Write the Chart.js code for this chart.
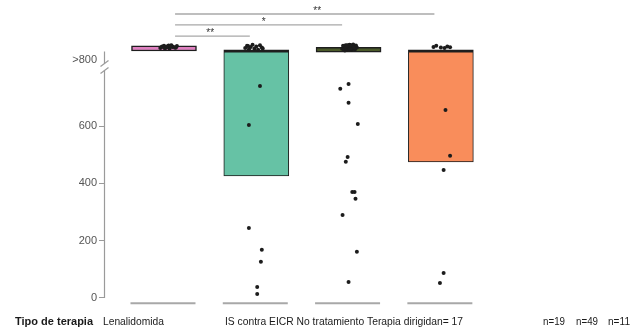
<!DOCTYPE html>
<html>
<head>
<meta charset="utf-8">
<script src="https://cdn.jsdelivr.net/npm/chart.js@4.4.0/dist/chart.umd.min.js"></script>
<style>
  html, body { margin: 0; padding: 0; background: #fff; }
  #wrap { width: 630px; height: 334px; }
</style>
</head>
<body>
<div id="wrap"><canvas id="chart"></canvas></div>
<script>
// therapy groups and their sizes
const categories = ['Lenalidomida', 'IS contra EICR', 'No tratamiento', 'Terapia dirigida']
const counts = [17, 19, 49, 11]
const boxColors = ['#df80c0', '#66c2a5', '#4b5a2a', '#f98d5b']

// box limits (Q1 .. Q3 / median), values above 800 are plotted at ~870
const q1 = [862, 426, 858, 475]
const q3 = [880, 866, 875, 866]

const yTicks = [0, 200, 400, 600, 831]
const yTickLabels = ['0', '200', '400', '600', '>800']

// individual patients, value + horizontal jitter
const lenaVals = [872, 878, 880, 874, 876, 870, 882, 877, 873, 879, 875, 871, 881, 876, 874, 878, 880]
const lenaJit = [-0.04, -0.02, 0, 0.02, 0.04, 0.06, 0.08, 0.1, 0.12, 0.14, -0.03, 0.01, 0.05, 0.09, 0.13, 0.03, 0.07]

const isVals = [872, 880, 868, 876, 884, 870, 878, 866, 882, 874, 871, 879, 740, 604, 244, 168, 126, 38, 14]
const isJit = [-0.12, -0.1, -0.08, -0.06, -0.04, -0.02, 0, 0.02, 0.04, 0.06, 0.07, -0.09, 0.04, -0.08, -0.08, 0.06, 0.05, 0.01, 0.01]

const noVals = [870, 876, 882, 866, 872, 879, 885, 868, 874, 880, 864, 871, 877, 883, 869, 875, 881, 867, 873, 878,
  884, 865, 872, 876, 880, 870, 874, 879, 868, 873, 877, 882, 866, 871, 875, 880, 869,
  747, 730, 681, 607, 492, 475, 370, 370, 346, 290, 161, 56]
const noJit = [-0.07, -0.05, -0.03, -0.01, 0.01, 0.03, 0.05, 0.07, 0.09, -0.06, -0.04, -0.02, 0, 0.02, 0.04, 0.06, 0.08, -0.05, -0.03, -0.01,
  0.01, 0.03, 0.05, 0.07, -0.04, -0.02, 0, 0.02, 0.04, 0.06, -0.03, -0.01, 0.01, 0.03, 0.05, -0.02, 0.02,
  0, -0.09, 0, 0.1, -0.01, -0.03, 0.04, 0.065, 0.075, -0.065, 0.09, 0]

const tdVals = [876, 880, 874, 872, 878, 875, 656, 496, 447, 87, 52]
const tdJit = [-0.08, -0.05, 0, 0.04, 0.07, 0.1, 0.05, 0.1, 0.03, 0.03, -0.01]

// significance comparisons: [from, to, label]
const sigPairs = [[1, 2, '**'], [1, 3, '*'], [1, 4, '**']]

const groupVals = [lenaVals, isVals, noVals, tdVals]
const groupJit = [lenaJit, isJit, noJit, tdJit]

const points = []
groupVals.forEach((vals, g) => {
    vals.forEach((v, k) => points.push({ x: g + 1 + groupJit[g][k], y: v }))
})

const BAR_W = 65

const decor = {
    id: 'decor',
    afterDatasetDraw(chart, args) {
        if (args.index !== 0) return
        const { ctx, scales: { x, y } } = chart
        // grey base segment under each group
        ctx.save()
        ctx.strokeStyle = '#a8a8a8'
        ctx.lineWidth = 2
        categories.forEach((c, i) => {
            const cx = x.getPixelForValue(i + 1)
            const py = y.getPixelForValue(-18)
            ctx.beginPath()
            ctx.moveTo(cx - BAR_W / 2 - 1, py)
            ctx.lineTo(cx + BAR_W / 2 - 1, py)
            ctx.stroke()
        })
        ctx.restore()
    },
    afterDraw(chart) {
        const { ctx, chartArea, scales: { x, y } } = chart
        ctx.save()
        // y axis with break
        const ax = chartArea.left + 0.5
        const yTop = y.getPixelForValue(860)
        const yBot = y.getPixelForValue(0)
        const yc = y.getPixelForValue(806)
        ctx.strokeStyle = '#9a9a9a'
        ctx.lineWidth = 1.2
        ctx.beginPath()
        ctx.moveTo(ax, yTop); ctx.lineTo(ax, yc - 4)
        ctx.moveTo(ax, yc + 4); ctx.lineTo(ax, yBot)
        ctx.stroke()
        ;[yc - 3.5, yc + 3.5].forEach(s => {
            ctx.beginPath()
            ctx.moveTo(ax - 4, s + 3)
            ctx.lineTo(ax + 4, s - 3)
            ctx.stroke()
        })

        // significance brackets
        const sigY = [914, 953, 991]
        ctx.strokeStyle = '#a8a8a8'
        ctx.lineWidth = 1.3
        ctx.fillStyle = '#333'
        ctx.font = '10px "Liberation Sans", Arial, sans-serif'
        ctx.textAlign = 'center'
        ctx.textBaseline = 'bottom'
        sigPairs.forEach(([a, b, lab], i) => {
            const x1 = x.getPixelForValue(a + 0.12)
            const x2 = x.getPixelForValue(b - 0.07)
            const py = y.getPixelForValue(sigY[i])
            ctx.beginPath()
            ctx.moveTo(x1, py); ctx.lineTo(x2, py)
            ctx.stroke()
            const mid = x.getPixelForValue((a + b) / 2 + 0.08 * i)
            ctx.fillText(lab, mid, py + 2)
        })

        // bottom legend line
        ctx.textAlign = 'left'
        ctx.textBaseline = 'middle'
        ctx.fillStyle = '#1a1a1a'
        const ty = 322
        ctx.font = 'bold 11px "Liberation Sans", Arial, sans-serif'
        ctx.fillText('Tipo de terapia', 15, ty, 83)
        ctx.font = '10.5px "Liberation Sans", Arial, sans-serif'
        ctx.fillText(categories[0], 103, ty, 61)
        ctx.fillText(categories.slice(1).join(' ') + 'n= ' + counts[0], 225, ty, 238)
        const nx = [543, 576, 608]
        counts.slice(1).forEach((n, i) => ctx.fillText('n=' + n, nx[i], ty, 22))
        ctx.restore()
    }
}

new Chart(document.getElementById('chart'), {
    type: 'bar',
    data: {
        datasets: [{
            type: 'bar',
            data: q1.map((v, i) => ({ x: i + 1, y: [v, q3[i]] })),
            backgroundColor: boxColors,
            borderColor: '#1e1e1e',
            borderSkipped: false,
            borderWidth: (c) => (q3[c.dataIndex] - q1[c.dataIndex] > 50)
                ? { top: 3, left: 1, right: 1, bottom: 1 }
                : 1.5,
            barThickness: BAR_W,
            order: 2,
        }, {
            type: 'scatter',
            data: points,
            backgroundColor: '#1c1c1c',
            borderWidth: 0,
            pointRadius: 2,
            order: 1,
        }]
    },
    options: {
        responsive: true,
        maintainAspectRatio: false,
        animation: false,
        devicePixelRatio: 1,
        layout: { padding: { top: 10, bottom: 28, right: 95, left: 0 } },
        plugins: {
            legend: { display: false },
            tooltip: { enabled: false },
        },
        scales: {
            x: {
                type: 'linear',
                min: 0.35,
                max: 5.02,
                offset: false,
                display: false,
            },
            y: {
                min: -28,
                max: 1005,
                afterBuildTicks: (s) => { s.ticks = yTicks.map(v => ({ value: v })) },
                afterFit: (s) => { s.width = 104 },
                border: { display: false },
                grid: {
                    drawOnChartArea: false,
                    tickLength: 5,
                    color: (c) => c.tick && c.tick.value === 831 ? 'rgba(0,0,0,0)' : '#9a9a9a',
                },
                ticks: {
                    padding: 2,
                    color: '#555',
                    font: { size: 11, family: '"Liberation Sans", Arial, sans-serif' },
                    callback: (v) => yTickLabels[yTicks.indexOf(v)],
                },
            },
        },
    },
    plugins: [decor],
})
</script>
</body>
</html>
